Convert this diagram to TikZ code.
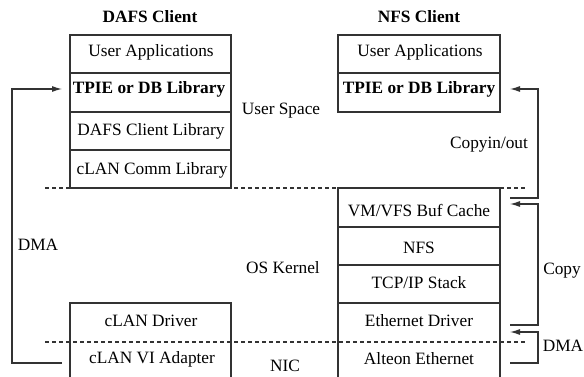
\documentclass[tikz,border=0pt]{standalone}
\usepackage{fontspec}
\setmainfont{Liberation Serif}
\usetikzlibrary{arrows.meta}
\begin{document}
\begin{tikzpicture}[x=1pt,y=-1pt,
  lbl/.style={font=\fontsize{17.3}{20}\selectfont, inner sep=0pt, anchor=center},
  blbl/.style={lbl, font=\fontsize{17.3}{20}\selectfont\bfseries},
  boxline/.style={line width=1.1pt, draw=black!80},
  sep/.style={line width=1.1pt, dash pattern=on 4pt off 3pt, draw=black!80},
  arr/.style={line width=1.1pt, draw=black!80, -{Latex[length=10pt,width=6pt]}},
  plain/.style={line width=1.1pt, draw=black!80}]
\useasboundingbox (0,0) rectangle (584,377);
% dashed separators
\draw[sep] (45,188) -- (527,188);
\draw[sep] (45,342) -- (527,342);
% DAFS upper box
\draw[boxline] (70,35) rectangle (231,188);
\draw[boxline] (70,73) -- (231,73);
\draw[boxline] (70,112) -- (231,112);
\draw[boxline] (70,150) -- (231,150);
% DAFS lower box
\draw[boxline] (70,377) -- (70,303) -- (231,303) -- (231,377);
% NFS upper box
\draw[boxline] (338,35) rectangle (500,112);
\draw[boxline] (338,73) -- (500,73);
% NFS lower box
\draw[boxline] (338,377) -- (338,188) -- (500,188) -- (500,377);
\draw[boxline] (338,227) -- (500,227);
\draw[boxline] (338,265) -- (500,265);
\draw[boxline] (338,303) -- (500,303);
% titles
\node[blbl] (dt) at (150,17) {DAFS Client};
\node[blbl] (nt) at (419,17) {NFS Client};
% DAFS texts
\node[lbl] (d1) at (151,52) {User Applications};
\node[blbl] (d2) at (149,89) {TPIE or DB Library};
\node[lbl] (d3) at (151,131) {DAFS Client Library};
\node[lbl] (d4) at (152,170) {cLAN Comm Library};
\node[lbl] (d5) at (151,321) {cLAN Driver};
\node[lbl] (d6) at (152,359) {cLAN VI Adapter};
% NFS texts
\node[lbl] (n1) at (420,52) {User Applications};
\node[blbl] (n2) at (419,89) {TPIE or DB Library};
\node[lbl] (n3) at (419,211) {VM/VFS Buf Cache};
\node[lbl] (n4) at (419,248) {NFS};
\node[lbl] (n5) at (419,283) {TCP/IP Stack};
\node[lbl] (n6) at (419,321) {Ethernet Driver};
\node[lbl] (n7) at (419,359) {Alteon Ethernet};
% region labels
\node[lbl] (us) at (281,111) {User Space};
\node[lbl] (ok) at (283,268) {OS Kernel};
\node[lbl] (nic) at (285,366) {NIC};
\node[lbl] (dmal) at (38,245) {DMA};
\node[lbl] (cio) at (489,145) {Copyin/out};
\node[lbl] (cp) at (562,271) {Copy};
\node[lbl] (dmar) at (563,346) {DMA};
% left DMA connector
\coordinate (la) at (62,363);
\coordinate (lb) at (62,89);
\draw[arr] (la) -- (12,363) -- (12,89) -- (lb);
% Copyin/out
\coordinate (ca) at (510,198);
\coordinate (cb) at (510,89);
\draw[arr] (ca) -- (538,198) -- (538,89) -- (cb);
% Copy
\coordinate (pa) at (510,325);
\coordinate (pb) at (510,204);
\draw[arr] (pa) -- (538,325) -- (538,204) -- (pb);
% DMA right
\coordinate (ma) at (510,363);
\coordinate (mb) at (510,332);
\draw[arr] (ma) -- (538,363) -- (538,332) -- (mb);
\end{tikzpicture}
\end{document}
